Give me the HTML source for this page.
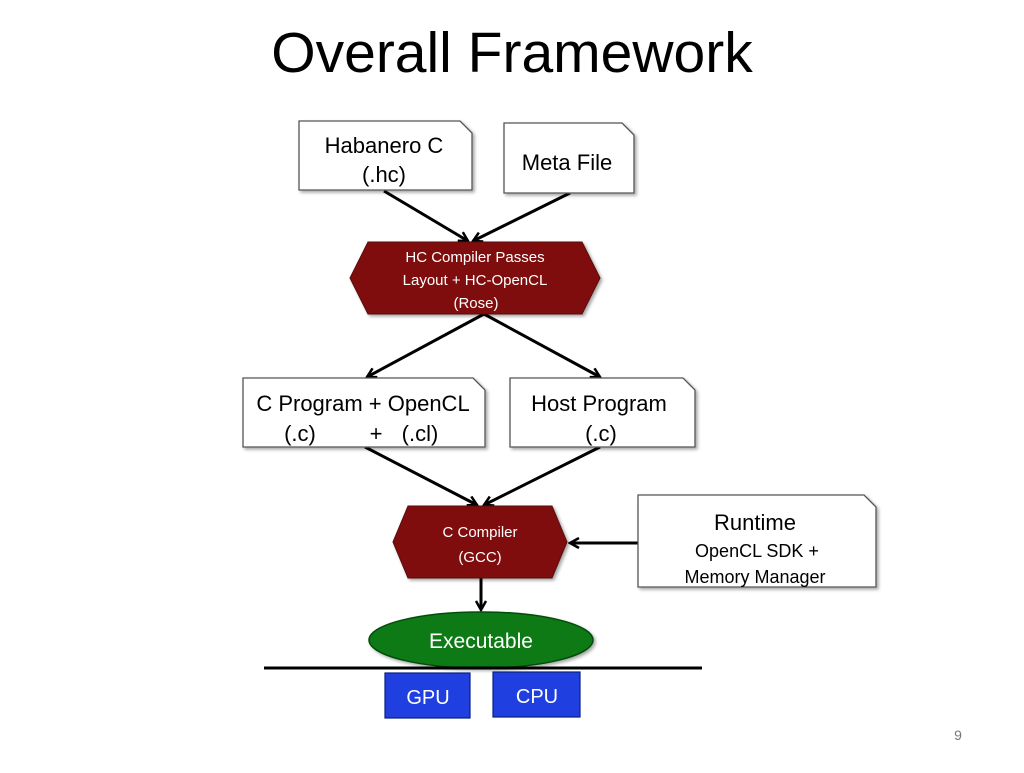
<!DOCTYPE html>
<html><head><meta charset="utf-8"><style>
body{margin:0;background:#fff;}
svg text{font-family:"Liberation Sans",sans-serif;}
</style></head><body>
<svg width="1024" height="768" viewBox="0 0 1024 768" xmlns="http://www.w3.org/2000/svg">
<defs>
<marker id="a" markerWidth="12" markerHeight="12" refX="10" refY="6" orient="auto" markerUnits="userSpaceOnUse">
<path d="M1,1 L10,6 L1,11" fill="none" stroke="#000" stroke-width="2.5"/>
</marker>
<filter id="s" x="-10%" y="-10%" width="130%" height="130%"><feDropShadow dx="2" dy="2" stdDeviation="1.5" flood-opacity="0.35"/></filter>
</defs>
<text x="512" y="72" font-size="57" text-anchor="middle" fill="#000">Overall Framework</text>
<g stroke="#000" stroke-width="3" fill="none" marker-end="url(#a)">
<line x1="384" y1="191" x2="468" y2="241"/>
<line x1="570" y1="193" x2="473" y2="241"/>
<line x1="484" y1="314" x2="367" y2="377"/>
<line x1="484" y1="314" x2="600" y2="377"/>
<line x1="365" y1="447" x2="477" y2="505"/>
<line x1="600" y1="447" x2="484" y2="505"/>
<line x1="638" y1="543" x2="570" y2="543"/>
<line x1="481" y1="578" x2="481" y2="610"/>
</g>
<g fill="#fff" stroke="#555" stroke-width="1.3" filter="url(#s)">
<path d="M299,121 H460 L472,133 V190 H299 Z"/>
<path d="M504,123 H622 L634,135 V193 H504 Z"/>
<path d="M243,378 H473 L485,390 V447 H243 Z"/>
<path d="M510,378 H683 L695,390 V447 H510 Z"/>
<path d="M638,495 H864 L876,507 V587 H638 Z"/>
</g>
<g fill="#7f0d0d" stroke="#5a0808" stroke-width="1" filter="url(#s)">
<path d="M350,278 L368,242 H582 L600,278 L582,314 H368 Z"/>
<path d="M393,542 L408,506 H552 L567,542 L552,578 H408 Z"/>
</g>
<ellipse cx="481" cy="640" rx="112" ry="28" fill="#0f7a12" stroke="#064d08" stroke-width="1.5" filter="url(#s)"/>
<line x1="264" y1="668" x2="702" y2="668" stroke="#000" stroke-width="3"/>
<rect x="385" y="673" width="85" height="45" fill="#1f3fe0" stroke="#0b1f80" stroke-width="1.2"/>
<rect x="493" y="672" width="87" height="45" fill="#1f3fe0" stroke="#0b1f80" stroke-width="1.2"/>
<g font-size="22" text-anchor="middle" fill="#000">
<text x="384" y="153">Habanero C</text>
<text x="384" y="182">(.hc)</text>
<text x="567" y="170">Meta File</text>
<text x="363" y="411">C Program + OpenCL</text>
<text x="300" y="441">(.c)</text><text x="376" y="441">+</text><text x="420" y="441">(.cl)</text>
<text x="599" y="411">Host Program</text>
<text x="601" y="441">(.c)</text>
<text x="755" y="530">Runtime</text>
</g>
<g font-size="18" text-anchor="middle" fill="#000">
<text x="757" y="557">OpenCL SDK +</text>
<text x="755" y="583">Memory Manager</text>
</g>
<g font-size="15" text-anchor="middle" fill="#fff">
<text x="475" y="262">HC Compiler Passes</text>
<text x="475" y="285">Layout + HC-OpenCL</text>
<text x="476" y="308">(Rose)</text>
<text x="480" y="537">C Compiler</text>
<text x="480" y="562">(GCC)</text>
</g>
<text x="481" y="648" font-size="21" text-anchor="middle" fill="#fff">Executable</text>
<text x="428" y="704" font-size="20" text-anchor="middle" fill="#fff">GPU</text>
<text x="537" y="703" font-size="20" text-anchor="middle" fill="#fff">CPU</text>
<text x="958" y="740" font-size="14" text-anchor="middle" fill="#777">9</text>
</svg>
</body></html>
